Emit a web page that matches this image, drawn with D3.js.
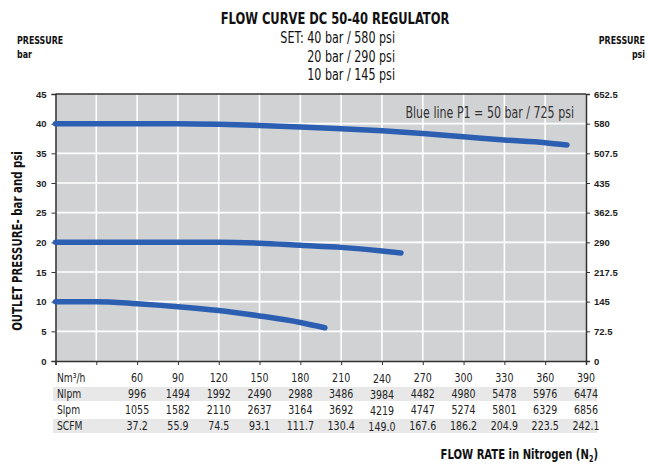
<!DOCTYPE html>
<html>
<head>
<meta charset="utf-8">
<script src="https://cdn.jsdelivr.net/npm/d3@7"></script>
<style>
  body { margin: 0; background: #fff; }
  svg { display: block; }
  .narrow { font-family: "Liberation Sans Narrow", "DejaVu Sans Condensed", "Arial Narrow", sans-serif; font-stretch: condensed; }
  .ax text { font-family: "Liberation Sans", Arial, sans-serif; font-weight: bold; font-size: 9.5px; fill: #222; }
</style>
</head>
<body>
<div id="chart"></div>
<script>
// flow columns (Nm3/h) and the conversions printed under the chart
var flowTicks = [0, 30, 60, 90, 120, 150, 180, 210, 240, 270, 300, 330, 360, 390];
var nm3h = [60, 90, 120, 150, 180, 210, 240, 270, 300, 330, 360, 390];
var nlpm = [996, 1494, 1992, 2490, 2988, 3486, 3984, 4482, 4980, 5478, 5976, 6474];
var slpm = [1055, 1582, 2110, 2637, 3164, 3692, 4219, 4747, 5274, 5801, 6329, 6856];
var scfm = ['37.2', '55.9', '74.5', '93.1', '111.7', '130.4', '149.0', '167.6', '186.2', '204.9', '223.5', '242.1'];

var barTicks = [0, 5, 10, 15, 20, 25, 30, 35, 40, 45];
var psiTicks = [0, 72.5, 145, 217.5, 290, 362.5, 435, 507.5, 580, 652.5];

// outlet pressure curves, bar
var set40Flow = [0, 30, 60, 90, 120, 150, 180, 210, 240, 270, 300, 330, 360, 376];
var set40Bar  = [40, 40, 40, 40, 39.9, 39.7, 39.45, 39.15, 38.8, 38.35, 37.8, 37.25, 36.8, 36.4];
var set20Flow = [0, 30, 60, 90, 120, 150, 180, 210, 240, 254];
var set20Bar  = [20, 20, 20, 20, 20, 19.85, 19.5, 19.15, 18.55, 18.2];
var set10Flow = [0, 30, 60, 90, 120, 150, 180, 198];
var set10Bar  = [10, 10, 9.65, 9.15, 8.5, 7.6, 6.5, 5.6];

var W = 648, H = 465;
var plotL = 55.5, plotR = 586, plotT = 94, plotB = 361;

var svg = d3.select('#chart').append('svg')
  .attr('width', W).attr('height', H);

var x = d3.scaleLinear().domain([0, 390]).range([plotL, plotR]);
var y = d3.scaleLinear().domain([0, 45]).range([plotB, plotT]);
var yPsi = d3.scaleLinear().domain([0, 652.5]).range([plotB, plotT]);

// plot background + grid
svg.append('rect')
  .attr('x', plotL).attr('y', plotT)
  .attr('width', plotR - plotL).attr('height', plotB - plotT)
  .attr('fill', '#d1d2d4');

svg.append('g').selectAll('line')
  .data(flowTicks.slice(1, -1))
  .enter().append('line')
  .attr('x1', d => x(d)).attr('x2', d => x(d))
  .attr('y1', plotT).attr('y2', plotB)
  .attr('stroke', '#fff').attr('stroke-width', 1.6);

svg.append('g').selectAll('line')
  .data(barTicks.slice(1, -1))
  .enter().append('line')
  .attr('x1', plotL).attr('x2', plotR)
  .attr('y1', d => y(d)).attr('y2', d => y(d))
  .attr('stroke', '#fff').attr('stroke-width', 1.6);

// axes
var axL = svg.append('g').attr('class', 'ax')
  .attr('transform', 'translate(' + plotL + ',0)')
  .call(d3.axisLeft(y).tickValues(barTicks).tickSize(4).tickPadding(5).tickFormat(d3.format('d')));
var axR = svg.append('g').attr('class', 'ax')
  .attr('transform', 'translate(' + plotR + ',0)')
  .call(d3.axisRight(yPsi).tickValues(psiTicks).tickSize(4).tickPadding(4).tickFormat(d => d));
var axB = svg.append('g').attr('class', 'ax')
  .attr('transform', 'translate(0,' + plotB + ')')
  .call(d3.axisBottom(x).tickValues(flowTicks).tickSize(4).tickFormat(''));
[axL, axR, axB].forEach(function (g) {
  g.select('.domain').attr('stroke', '#333').attr('stroke-width', 1.5);
  g.selectAll('.tick line').attr('stroke', '#333').attr('stroke-width', 1);
});
svg.append('line')
  .attr('x1', plotL).attr('x2', plotR).attr('y1', plotT).attr('y2', plotT)
  .attr('stroke', '#333').attr('stroke-width', 1.5);

// curves
var line = d3.line()
  .x(d => x(d[0])).y(d => y(d[1]))
  .curve(d3.curveMonotoneX);

[[set40Flow, set40Bar], [set20Flow, set20Bar], [set10Flow, set10Bar]].forEach(function (s) {
  svg.append('path')
    .datum(d3.zip(s[0], s[1]))
    .attr('d', line)
    .attr('fill', 'none')
    .attr('stroke', '#2c5fb1')
    .attr('stroke-width', 5.5)
    .attr('stroke-linecap', 'round');
});

// squeezed text (the original uses a condensed face)
function label(parent, px, py, str, size, opts) {
  opts = opts || {};
  var g = parent.append('g')
    .attr('transform', 'translate(' + px + ',' + py + ')' + (opts.rot ? ' rotate(' + opts.rot + ')' : '') + ' scale(' + (opts.sx || 0.82) + ',1)');
  return g.append('text')
    .attr('class', 'narrow')
    .attr('text-anchor', opts.anchor || 'start')
    .attr('font-size', size)
    .attr('font-weight', opts.bold ? 'bold' : 'normal')
    .attr('fill', opts.fill || '#111')
    .text(str);
}

// table under the chart
var rows = [
  { label: 'Nm\u00b3/h', vals: nm3h, y: 382, band: false },
  { label: 'Nlpm', vals: nlpm, y: 398, band: true },
  { label: 'Slpm', vals: slpm, y: 414, band: false },
  { label: 'SCFM', vals: scfm, y: 430, band: true }
];
var tbl = svg.append('g');
rows.forEach(function (r) {
  if (r.band) {
    tbl.append('rect')
      .attr('x', 53).attr('y', r.y - 11)
      .attr('width', 544).attr('height', 14)
      .attr('fill', '#e8e8e9');
  }
  label(tbl, 57, r.y, r.label, 12, { fill: '#222', sx: 0.85 });
  r.vals.forEach(function (v, i) {
    label(tbl, x(nm3h[i]), r.y + (nm3h[i] === 240 ? 1 : 0), v, 12, { anchor: 'middle', fill: '#222', sx: 0.88 });
  });
});

// titles
var t = svg.append('g');
label(t, 335, 24, 'FLOW CURVE DC 50-40 REGULATOR', 16, { anchor: 'middle', bold: true, sx: 0.8 });
['SET: 40 bar / 580 psi', '20 bar / 290 psi', '10 bar / 145 psi'].forEach(function (s, i) {
  label(t, 395, 43 + i * 18.5, s, 15.5, { anchor: 'end', sx: 0.8 });
});
label(t, 17, 44, 'PRESSURE', 11, { bold: true, sx: 0.8 });
label(t, 17, 58, 'bar', 11, { bold: true, sx: 0.8 });
label(t, 645, 44, 'PRESSURE', 11, { anchor: 'end', bold: true, sx: 0.8 });
label(t, 645, 58, 'psi', 11, { anchor: 'end', bold: true, sx: 0.8 });
// rotated axis title: scale along its own length
t.append('g')
  .attr('transform', 'translate(22,241) rotate(-90) scale(0.81,1)')
  .append('text').attr('class', 'narrow')
  .attr('text-anchor', 'middle').attr('font-size', 14).attr('font-weight', 'bold').attr('fill', '#111')
  .text('OUTLET PRESSURE- bar and psi');
label(t, 574, 118, 'Blue line P1 = 50 bar / 725 psi', 15, { anchor: 'end', fill: '#333', sx: 0.82 });
var fr = label(t, 598, 459, 'FLOW RATE in Nitrogen (N', 14, { anchor: 'end', bold: true, sx: 0.8 });
fr.append('tspan').attr('font-size', 9).attr('dy', 3).text('2');
fr.append('tspan').attr('dy', -3).text(')');
</script>
</body>
</html>
